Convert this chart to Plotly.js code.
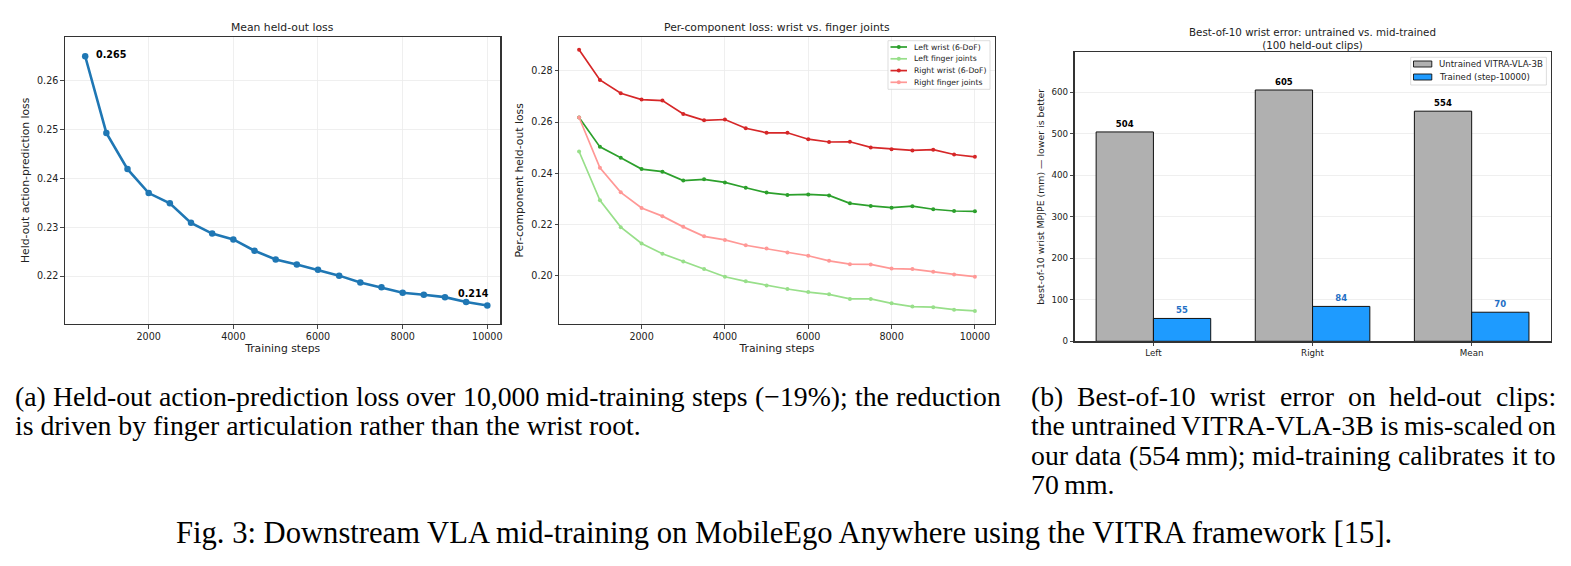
<!DOCTYPE html>
<html>
<head>
<meta charset="utf-8">
<script src="https://cdn.plot.ly/plotly-3.0.1.min.js"></script>
<style>
  html, body { margin: 0; padding: 0; background: #fff; }
  #fig { width: 1571px; height: 566px; }
</style>
</head>
<body>
<div id="fig"></div>
<script>
// ---- data ----
const steps = [500, 1000, 1500, 2000, 2500, 3000, 3500, 4000, 4500, 5000,
               5500, 6000, 6500, 7000, 7500, 8000, 8500, 9000, 9500, 10000];

const meanLoss = [0.265, 0.2493, 0.2419, 0.2370, 0.2349, 0.2309, 0.2287, 0.2275, 0.2252, 0.2234,
                  0.2224, 0.2213, 0.2201, 0.2187, 0.2177, 0.2166, 0.2162, 0.2157, 0.2147, 0.214];

const leftWrist = [0.2618, 0.2503, 0.2460, 0.2416, 0.2406, 0.2371, 0.2376, 0.2364, 0.2343, 0.2324,
                   0.2315, 0.2317, 0.2313, 0.2282, 0.2272, 0.2265, 0.2271, 0.2259, 0.2252, 0.2251];
const leftFinger = [0.2485, 0.2294, 0.2189, 0.2125, 0.2085, 0.2055, 0.2025, 0.1995, 0.1977, 0.1961,
                    0.1947, 0.1935, 0.1926, 0.1908, 0.1908, 0.1891, 0.1878, 0.1876, 0.1866, 0.1861];
const rightWrist = [0.2883, 0.2765, 0.2713, 0.2688, 0.2684, 0.2632, 0.2607, 0.2610, 0.2576, 0.2558,
                    0.2558, 0.2533, 0.2522, 0.2523, 0.2501, 0.2494, 0.2489, 0.2492, 0.2473, 0.2464];
const rightFinger = [0.2618, 0.2421, 0.2325, 0.2264, 0.2232, 0.2190, 0.2153, 0.2139, 0.2118, 0.2105,
                     0.2090, 0.2077, 0.2057, 0.2044, 0.2043, 0.2027, 0.2025, 0.2014, 0.2004, 0.1995];
const componentNames = ['Left wrist (6-DoF)', 'Left finger joints', 'Right wrist (6-DoF)', 'Right finger joints'];

const barCategories = ['Left', 'Right', 'Mean'];
const untrainedErr = [504, 605, 554];
const trainedErr = [55, 84, 70];
const barNames = ['Untrained VITRA-VLA-3B', 'Trained (step-10000)'];

// ---- page geometry (pixels) ----
const W = 1571, H = 566;
const px = v => v / W;
const py = v => 1 - v / H;

const P1 = {l: 65, r: 500.3, t: 36.7, b: 324};
const P2 = {l: 559.3, r: 994.7, t: 36.7, b: 324};
const P3 = {l: 1074.5, r: 1550.6, t: 52.3, b: 341.3};

const SANS = 'DejaVu Sans';
const SERIF = 'Liberation Serif';
const INK = '#222';

// font sizes
const TICK = 9.6, LABEL = 10.8;          // line panels
const TICK3 = 8.7, LABEL3 = 9.4, TITLE3 = 10.3;  // bar panel

const axBase = {
  showline: true, mirror: true, linecolor: '#333', linewidth: 1.2,
  ticks: 'outside', ticklen: 3.5, tickwidth: 0.9, tickcolor: '#333',
  showgrid: true, gridcolor: '#ebebeb', gridwidth: 0.8,
  zeroline: false, fixedrange: true,
  tickfont: {family: SANS, size: TICK, color: INK}
};
const ax = (extra) => Object.assign({}, axBase, extra);

// ---- traces ----
const traces = [];

traces.push({
  x: steps, y: meanLoss, xaxis: 'x', yaxis: 'y', type: 'scatter', mode: 'lines+markers',
  line: {color: '#1f77b4', width: 2.6}, marker: {color: '#1f77b4', size: 6.5},
  showlegend: false, hoverinfo: 'skip'
});

const compSeries = [leftWrist, leftFinger, rightWrist, rightFinger];
const compColors = ['#2ca02c', '#98df8a', '#d62728', '#ff9896'];
compSeries.forEach((ys, i) => {
  traces.push({
    x: steps, y: ys, xaxis: 'x2', yaxis: 'y2', type: 'scatter', mode: 'lines+markers',
    name: componentNames[i],
    line: {color: compColors[i], width: 1.7}, marker: {color: compColors[i], size: 4},
    showlegend: false, hoverinfo: 'skip'
  });
});

const barColors = ['#b0b0b0', '#1e9bff'];
const barLabelColors = ['#000', '#1f6fc5'];
[untrainedErr, trainedErr].forEach((vals, i) => {
  traces.push({
    x: barCategories, y: vals, xaxis: 'x3', yaxis: 'y3', type: 'bar', name: barNames[i],
    marker: {color: barColors[i], line: {color: '#111', width: 1}},
    text: vals.map(String), textposition: 'outside', cliponaxis: false,
    textfont: {family: SANS, size: 8.5, color: barLabelColors[i], weight: 'bold'},
    texttemplate: '<b>%{text}</b>',
    showlegend: false, hoverinfo: 'skip'
  });
});

// ---- annotations & shapes ----
const annotations = [];
const shapes = [];

// panel titles
annotations.push({text: 'Mean held-out loss', xref: 'x domain', x: 0.5, yref: 'paper', y: py(27),
  showarrow: false, font: {family: SANS, size: LABEL, color: INK}, xanchor: 'center', yanchor: 'middle'});
annotations.push({text: 'Per-component loss: wrist vs. finger joints', xref: 'x2 domain', x: 0.5, yref: 'paper', y: py(27),
  showarrow: false, font: {family: SANS, size: LABEL, color: INK}, xanchor: 'center', yanchor: 'middle'});
annotations.push({text: 'Best-of-10 wrist error: untrained vs. mid-trained<br>(100 held-out clips)', xref: 'x3 domain', x: 0.5,
  yref: 'paper', y: py(38.3), showarrow: false, font: {family: SANS, size: TITLE3, color: INK},
  xanchor: 'center', yanchor: 'middle'});

// first/last value labels on the mean curve
const last = meanLoss.length - 1;
annotations.push({text: '<b>' + meanLoss[0].toFixed(3) + '</b>', xref: 'x', yref: 'y', x: steps[0], y: meanLoss[0],
  showarrow: false, xanchor: 'left', yanchor: 'middle', xshift: 9, yshift: 2,
  font: {family: SANS, size: 9.6, color: '#000'}});
annotations.push({text: '<b>' + meanLoss[last].toFixed(3) + '</b>', xref: 'x', yref: 'y', x: steps[last], y: meanLoss[last],
  showarrow: false, xanchor: 'center', yanchor: 'middle', xshift: -13.5, yshift: 11.6,
  font: {family: SANS, size: 9.6, color: '#000'}});

// legend box for the per-component panel
(function () {
  const w = P2.r - P2.l, h = P2.b - P2.t;
  const fx = v => (v - P2.l) / w, fy = v => (P2.b - v) / h;
  shapes.push({type: 'rect', xref: 'x2 domain', yref: 'y2 domain', x0: fx(888), x1: fx(990), y0: fy(89.3), y1: fy(40.7),
    fillcolor: 'rgba(255,255,255,0.85)', line: {color: '#d4d4d4', width: 0.8}, layer: 'above'});
  const rows = [47, 58.8, 70.6, 82.3];
  componentNames.forEach((name, i) => {
    const yy = fy(rows[i]);
    shapes.push({type: 'line', xref: 'x2 domain', yref: 'y2 domain', x0: fx(890.5), x1: fx(907), y0: yy, y1: yy,
      line: {color: compColors[i], width: 1.7}, layer: 'above'});
    shapes.push({type: 'circle', xref: 'x2 domain', yref: 'y2 domain', xsizemode: 'pixel', ysizemode: 'pixel',
      xanchor: fx(898.8), yanchor: yy, x0: -2, x1: 2, y0: -2, y1: 2,
      fillcolor: compColors[i], line: {color: compColors[i], width: 0}, layer: 'above'});
    annotations.push({text: name, xref: 'x2 domain', yref: 'y2 domain', x: fx(912), y: yy, showarrow: false,
      xanchor: 'left', yanchor: 'middle', font: {family: SANS, size: 7.7, color: INK}});
  });
})();

// legend box for the bar panel
(function () {
  const w = P3.r - P3.l, h = P3.b - P3.t;
  const fx = v => (v - P3.l) / w, fy = v => (P3.b - v) / h;
  shapes.push({type: 'rect', xref: 'x3 domain', yref: 'y3 domain', x0: fx(1410.7), x1: fx(1546.4), y0: fy(85), y1: fy(57.3),
    fillcolor: 'rgba(255,255,255,0.85)', line: {color: '#d4d4d4', width: 0.8}, layer: 'above'});
  const rows = [64, 77];
  barNames.forEach((name, i) => {
    const yc = rows[i];
    shapes.push({type: 'rect', xref: 'x3 domain', yref: 'y3 domain', x0: fx(1413.5), x1: fx(1431.8),
      y0: fy(yc + 3), y1: fy(yc - 3), fillcolor: barColors[i], line: {color: '#111', width: 0.9}, layer: 'above'});
    annotations.push({text: name, xref: 'x3 domain', yref: 'y3 domain', x: fx(1437), y: fy(yc), showarrow: false,
      xanchor: 'left', yanchor: 'middle', font: {family: SANS, size: 8.6, color: INK}});
  });
})();

// ---- captions (serif, justified like the printed page) ----
const measureCtx = document.createElement('canvas').getContext('2d');
function textWidth(s, size) {
  measureCtx.font = size + 'px "' + SERIF + '"';
  return measureCtx.measureText(s).width;
}
function fitSize(s, width) {
  return 20 * width / textWidth(s, 20);
}
function captionLine(s, x0, yc, size, x1) {
  const font = {family: SERIF, size: size, color: '#000'};
  if (x1 === undefined) {
    annotations.push({text: s, xref: 'paper', yref: 'paper', x: px(x0), y: py(yc), showarrow: false,
      xanchor: 'left', yanchor: 'middle', font: font, borderpad: 0});
    return;
  }
  const words = s.split(' ');
  const widths = words.map(wd => textWidth(wd, size));
  const gap = (x1 - x0 - widths.reduce((a, b) => a + b, 0)) / (words.length - 1);
  let x = x0;
  words.forEach((wd, i) => {
    annotations.push({text: wd, xref: 'paper', yref: 'paper', x: px(x), y: py(yc), showarrow: false,
      xanchor: 'left', yanchor: 'middle', font: font, borderpad: 0});
    x += widths[i] + gap;
  });
}

const capA = ['(a) Held-out action-prediction loss over 10,000 mid-training steps (\u221219%); the reduction',
              'is driven by finger articulation rather than the wrist root.'];
const capB = ['(b) Best-of-10 wrist error on held-out clips:',
              'the untrained VITRA-VLA-3B is mis-scaled on',
              'our data (554\u2009mm); mid-training calibrates it to',
              '70\u2009mm.'];
const figCaption = 'Fig. 3: Downstream VLA mid-training on MobileEgo Anywhere using the VITRA framework [15].';

const capSize = fitSize(capA[1], 626);
captionLine(capA[0], 14, 396, capSize, 1000);
captionLine(capA[1], 14, 425, capSize);
captionLine(capB[0], 1030, 396, capSize, 1555);
captionLine(capB[1], 1030, 425, capSize, 1555);
captionLine(capB[2], 1030, 455, capSize, 1555);
captionLine(capB[3], 1030, 484, capSize);

const figSize = fitSize(figCaption, 1223);
annotations.push({text: figCaption, xref: 'paper', yref: 'paper', x: px(783.5), y: py(533), showarrow: false,
  xanchor: 'center', yanchor: 'middle', font: {family: SERIF, size: figSize, color: '#000'}, borderpad: 0});

// ---- layout ----
const layout = {
  width: W, height: H,
  margin: {l: 0, r: 0, t: 0, b: 0, pad: 0},
  paper_bgcolor: '#fff', plot_bgcolor: '#fff',
  showlegend: false,
  barmode: 'group', bargap: 0.28, bargroupgap: 0,
  font: {family: SANS, color: INK},
  xaxis: ax({domain: [px(P1.l), px(P1.r)], anchor: 'y', range: [23, 10307], tick0: 0, dtick: 2000, tickformat: 'd',
    title: {text: 'Training steps', font: {family: SANS, size: LABEL, color: INK}, standoff: 3}}),
  yaxis: ax({domain: [py(P1.b), py(P1.t)], anchor: 'x', range: [0.2102, 0.2690], tick0: 0, dtick: 0.01, tickformat: '.2f',
    title: {text: 'Held-out action-prediction loss', font: {family: SANS, size: LABEL, color: INK}, standoff: 5}}),
  xaxis2: ax({domain: [px(P2.l), px(P2.r)], anchor: 'y2', range: [25, 10475], tick0: 0, dtick: 2000, tickformat: 'd',
    title: {text: 'Training steps', font: {family: SANS, size: LABEL, color: INK}, standoff: 3}}),
  yaxis2: ax({domain: [py(P2.b), py(P2.t)], anchor: 'x2', range: [0.1810, 0.2934], tick0: 0, dtick: 0.02, tickformat: '.2f',
    title: {text: 'Per-component held-out loss', font: {family: SANS, size: LABEL, color: INK}, standoff: 5}}),
  xaxis3: ax({domain: [px(P3.l), px(P3.r)], anchor: 'y3', type: 'category', range: [-0.496, 2.496], showgrid: false,
    tickfont: {family: SANS, size: TICK3, color: INK}}),
  yaxis3: ax({domain: [py(P3.b), py(P3.t)], anchor: 'x3', range: [0, 695.75], tick0: 0, dtick: 100,
    tickfont: {family: SANS, size: TICK3, color: INK},
    title: {text: 'best-of-10 wrist MPJPE (mm) \u2014 lower is better', font: {family: SANS, size: LABEL3, color: INK}, standoff: 5}}),
  annotations: annotations,
  shapes: shapes
};

Plotly.newPlot('fig', traces, layout, {staticPlot: true, displayModeBar: false});
</script>
</body>
</html>
